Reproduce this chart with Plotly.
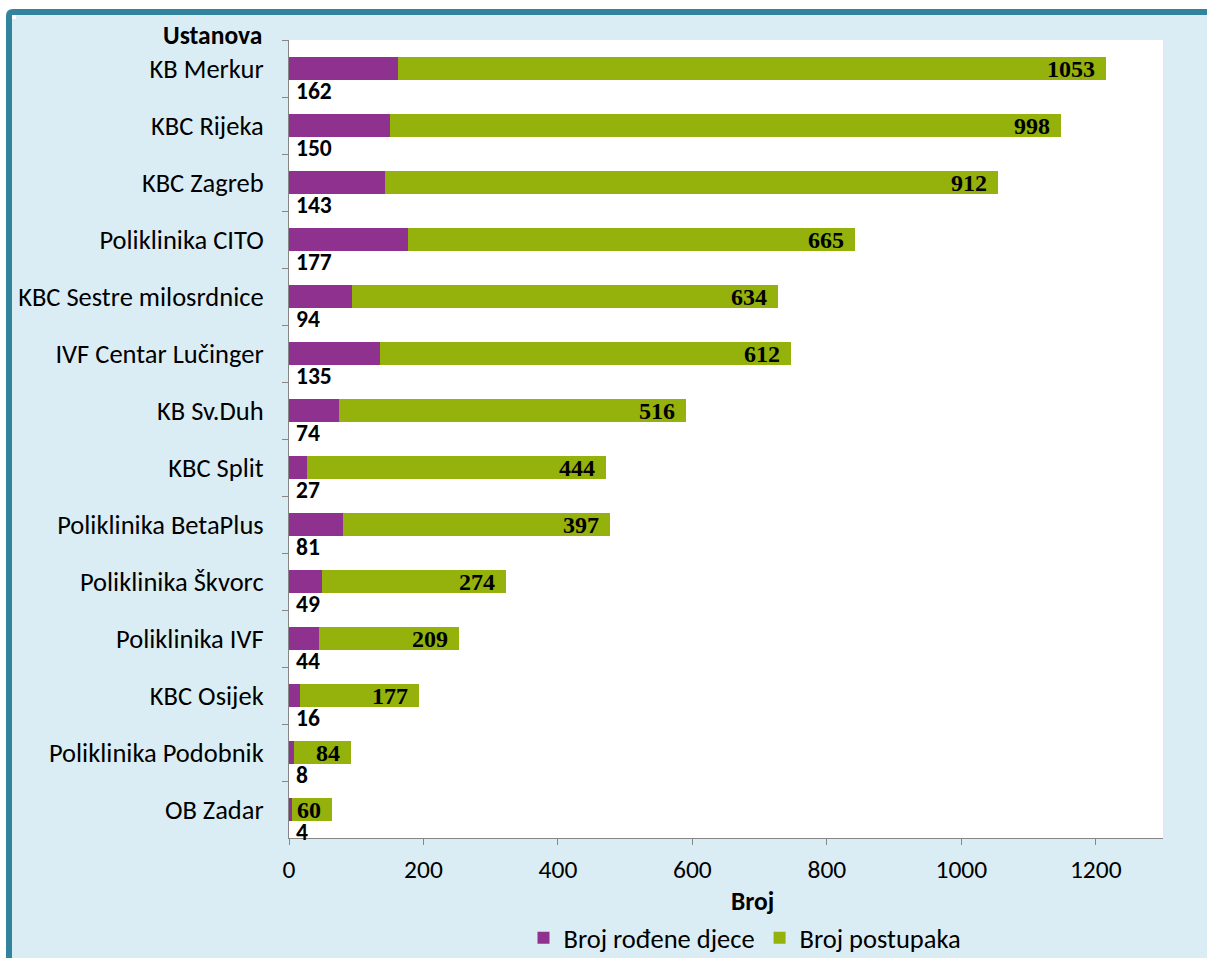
import plotly.graph_objects as go

categories = ["KB Merkur", "KBC Rijeka", "KBC Zagreb", "Poliklinika CITO",
              "KBC Sestre milosrdnice", "IVF Centar Lučinger", "KB Sv.Duh",
              "KBC Split", "Poliklinika BetaPlus", "Poliklinika Škvorc",
              "Poliklinika IVF", "KBC Osijek", "Poliklinika Podobnik", "OB Zadar"]
djeca = [162, 150, 143, 177, 94, 135, 74, 27, 81, 49, 44, 16, 8, 4]
postupci = [1053, 998, 912, 665, 634, 612, 516, 444, 397, 274, 209, 177, 84, 60]
x_ticks = [0, 200, 400, 600, 800, 1000, 1200]

W, H = 1207, 958
L, R, T, B = 289, 1163, 40, 838  # plot area in pixels

def px(v):  # pixel x -> paper
    return (v - L) / (R - L)

def py(v):  # pixel y -> paper
    return (B - v) / (B - T)

PURPLE = "#8F318F"
GREEN = "#95B10B"
BG = "#DBEDF4"
TEAL = "#31849B"
AX = "#868686"
SANS = "Carlito, Calibri, Lato, sans-serif"
SERIF = "'Liberation Serif', 'Times New Roman', serif"

fig = go.Figure()
fig.add_trace(go.Bar(y=categories, x=djeca, orientation="h", name="Broj rođene djece",
                     marker=dict(color=PURPLE, line=dict(width=0))))
fig.add_trace(go.Bar(y=categories, x=postupci, orientation="h", name="Broj postupaka",
                     marker=dict(color=GREEN, line=dict(width=0))))

annotations = []
for c, d, p in zip(categories, djeca, postupci):
    annotations.append(dict(x=0, y=c, xref="x", yref="y", text=f"<b>{d}</b>",
                            showarrow=False, xanchor="left", yanchor="middle",
                            xshift=5, yshift=-22,
                            font=dict(family=SANS, size=23.5, color="black")))
    annotations.append(dict(x=d + p, y=c, xref="x", yref="y", text=f"<b>{p}</b>",
                            showarrow=False, xanchor="right", yanchor="middle",
                            xshift=-9, yshift=0,
                            font=dict(family=SERIF, size=24, color="black")))
annotations.append(dict(x=px(264), y=py(36), xref="paper", yref="paper",
                        text="<b>Ustanova</b>", showarrow=False, xanchor="right",
                        yanchor="middle", font=dict(family=SANS, size=25.5, color="black")))
annotations.append(dict(x=px(752), y=py(901), xref="paper", yref="paper",
                        text="<b>Broj</b>", showarrow=False, xanchor="center",
                        yanchor="middle", font=dict(family=SANS, size=25.5, color="black")))

corner = (f"M {px(6)},{py(1000)} L {px(6)},{py(16)} Q {px(6)},{py(9)} {px(13)},{py(9)} "
          f"L {px(1300)},{py(9)} L {px(1300)},{py(15)} L {px(12)},{py(15)} "
          f"L {px(12)},{py(1000)} Z")
shapes = [
    dict(type="rect", x0=px(-10), x1=px(1300), y0=py(9), y1=py(-10), xref="paper", yref="paper",
         fillcolor="white", line=dict(width=0), layer="below"),
    dict(type="rect", x0=px(-10), x1=px(6), y0=py(1000), y1=py(-10), xref="paper", yref="paper",
         fillcolor="white", line=dict(width=0), layer="below"),
    dict(type="rect", x0=px(6), x1=px(16), y0=py(19), y1=py(9), xref="paper", yref="paper",
         fillcolor="white", line=dict(width=0), layer="below"),
    dict(type="path", path=corner, xref="paper", yref="paper",
         fillcolor=TEAL, line=dict(width=0), layer="below"),
]

fig.update_layout(
    width=W, height=H,
    margin=dict(l=L, r=W - R, t=T, b=H - B, pad=0, autoexpand=False),
    barmode="stack", bargap=0.6,
    paper_bgcolor=BG, plot_bgcolor="white",
    font=dict(family=SANS, size=26.5, color="black"),
    showlegend=True,
    legend=dict(orientation="h", x=px(745), xanchor="center", y=py(938), yanchor="middle",
                font=dict(family=SANS, size=26.5, color="black"), bgcolor="rgba(0,0,0,0)",
                traceorder="normal"),
    annotations=annotations,
    shapes=shapes,
    xaxis=dict(range=[0, 1300], tickvals=x_ticks, ticks="outside", ticklen=6, tickcolor=AX,
               showline=True, linecolor=AX, linewidth=1, showgrid=False, zeroline=False,
               automargin=False,
               tickfont=dict(family=SANS, size=25.5), ticklabelstandoff=2),
    yaxis=dict(categoryorder="array", categoryarray=categories, range=[13.5, -0.5],
               tickson="boundaries", ticks="outside", ticklen=6, tickcolor=AX,
               showline=True, linecolor=AX, linewidth=1, showgrid=False, automargin=False,
               tickfont=dict(family=SANS, size=26.5), ticklabelstandoff=19),
)

fig.write_html(
    "out.html",
    config={"displayModeBar": False},
    post_script="document.body.style.margin='0';"
                "document.documentElement.style.overflow='hidden';"
                "document.body.style.overflow='hidden';"
                "var s=document.createElement('style');"
                "s.textContent='*{outline:none !important;}';"
                "document.head.appendChild(s);"
                "if(document.activeElement){document.activeElement.blur();}",
)
